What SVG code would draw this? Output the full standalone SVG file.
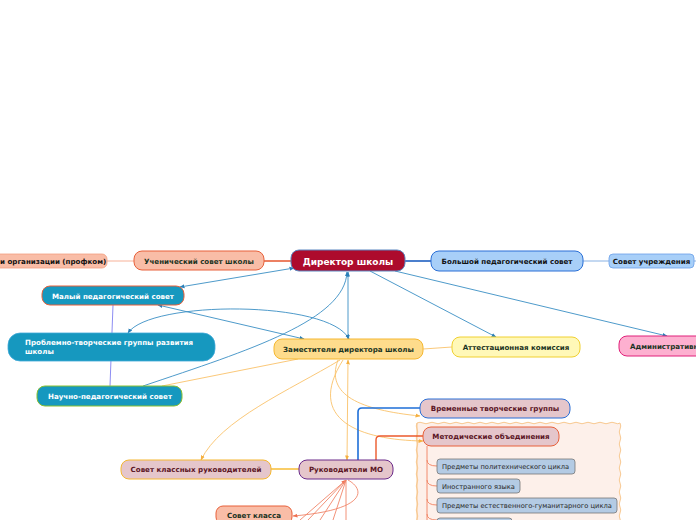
<svg xmlns="http://www.w3.org/2000/svg" width="696" height="520" viewBox="0 0 696 520">
<defs>
<style>
text{font-family:"DejaVu Sans","Verdana",sans-serif;font-weight:bold;font-size:7.1px;}
.c{text-anchor:middle;}
.w{fill:#ffffff;}
.dg{fill:#1b3322;}
.bk{fill:#111111;}
.mr{fill:#5a1424;}
.sub{font-weight:normal;font-size:6.7px;fill:#2a2a2a;}
.bl{fill:none;stroke:#3a8fc4;stroke-width:0.9;}
.or{fill:none;stroke:#f9c26a;stroke-width:0.9;}
.sa{fill:none;stroke:#f0866a;stroke-width:0.9;}
</style>
<marker id="ab" viewBox="0 0 10 10" refX="9" refY="5" markerWidth="5" markerHeight="5" orient="auto-start-reverse" markerUnits="userSpaceOnUse"><path d="M0,1 L10,5 L0,9 z" fill="#2a7fb8"/></marker>
<marker id="ao" viewBox="0 0 10 10" refX="9" refY="5" markerWidth="5" markerHeight="5" orient="auto-start-reverse" markerUnits="userSpaceOnUse"><path d="M0,1 L10,5 L0,9 z" fill="#f5b040"/></marker>
<marker id="as" viewBox="0 0 10 10" refX="9" refY="5" markerWidth="5" markerHeight="5" orient="auto-start-reverse" markerUnits="userSpaceOnUse"><path d="M0,1 L10,5 L0,9 z" fill="#ee7050"/></marker>
</defs>
<rect width="696" height="520" fill="#ffffff"/>

<g id="boundary">
<path d="M417,423 q3,-1.5 6,0 t6,0 t6,0 t6,0 t6,0 t6,0 t6,0 t6,0 t6,0 t6,0 t6,0 t6,0 t6,0 t6,0 t6,0 t6,0 t6,0 t6,0 t6,0 t6,0 t6,0 t6,0 t6,0 t6,0 t6,0 t6,0 t6,0 t6,0 t6,0 t6,0 t6,0 t6,0 t6,0 t5,0 q1.5,3 0,6 t0,6 t0,6 t0,6 t0,6 t0,6 t0,6 t0,6 t0,6 t0,6 t0,6 t0,6 t0,6 t0,6 t0,6 t0,6 t0,6 L618,530 L417,530 Z" fill="#fdf0ea" stroke="#f8c890" stroke-width="1"/>
<path d="M417,423 q-1.5,3 0,6 t0,6 t0,6 t0,6 t0,6 t0,6 t0,6 t0,6 t0,6 t0,6 t0,6 t0,6 t0,6 t0,6 t0,6 t0,6 t0,6" fill="none" stroke="#f8c890" stroke-width="1"/>
</g>

<g id="connectors">
<line x1="107" y1="261" x2="134" y2="261" stroke="#f6a88c" stroke-width="0.9"/>
<line x1="264" y1="261" x2="291" y2="261" stroke="#e8603a" stroke-width="1.6"/>
<line x1="405" y1="261" x2="431" y2="261" stroke="#1e5fc0" stroke-width="1.6"/>
<line x1="583" y1="261" x2="609" y2="261" stroke="#7aa8e0" stroke-width="0.9"/>
<line x1="694" y1="261" x2="696" y2="261" stroke="#7aa8e0" stroke-width="0.9"/>
<line class="bl" x1="180" y1="287" x2="294" y2="268" marker-start="url(#ab)" marker-end="url(#ab)"/>
<line class="bl" x1="348" y1="272" x2="348" y2="339" marker-start="url(#ab)" marker-end="url(#ab)"/>
<path class="bl" d="M143,386 C250,350 345,320 347,272" marker-end="url(#ab)"/>
<line class="bl" x1="158" y1="305" x2="304" y2="339" marker-start="url(#ab)" marker-end="url(#ab)"/>
<path class="bl" d="M128,333 C150,300 330,300 349,339" marker-start="url(#ab)" marker-end="url(#ab)"/>
<line class="bl" x1="370" y1="271" x2="496" y2="337" marker-end="url(#ab)"/>
<line class="bl" x1="395" y1="271" x2="667" y2="336" marker-end="url(#ab)"/>
<line x1="113" y1="305" x2="110" y2="386" stroke="#8080f0" stroke-width="0.9"/>
<line class="or" x1="423" y1="349" x2="452" y2="347"/>
<line class="or" x1="298" y1="359" x2="162" y2="386"/>
<path class="or" d="M340,360 C290,390 220,420 201,460" marker-end="url(#ao)"/>
<line class="or" x1="348" y1="360" x2="347" y2="460" marker-start="url(#ao)" marker-end="url(#ao)"/>
<path class="or" d="M338,360 C325,395 360,410 420,416" marker-end="url(#ao)"/>
<path class="or" d="M343,360 C305,420 360,440 423,441" marker-end="url(#ao)"/>
<line x1="271" y1="469" x2="299" y2="469" stroke="#f8c040" stroke-width="1.6"/>
<path d="M358,460 L358,412 Q358,408 362,408 L420,408" fill="none" stroke="#1e6fd8" stroke-width="1.6"/>
<path d="M376,460 L376,440 Q376,436 380,436 L423,436" fill="none" stroke="#ec5a2c" stroke-width="1.4"/>
<path d="M427,446 L427,520" fill="none" stroke="#f08060" stroke-width="0.9"/>
<path d="M427,460 Q427,466 437,466 M427,480 Q427,486 437,486 M427,499 Q427,505 437,505 M427,514 Q427,520 437,520" fill="none" stroke="#f08060" stroke-width="0.9"/>
<line class="sa" x1="300" y1="520" x2="346" y2="480" marker-end="url(#as)"/>
<line class="sa" x1="308" y1="520" x2="346" y2="480"/>
<line class="sa" x1="320" y1="520" x2="346" y2="480"/>
<line class="sa" x1="333" y1="520" x2="346" y2="480"/>
<line class="sa" x1="346" y1="520" x2="346" y2="480"/>
<path class="sa" d="M348,480 C366,490 366,510 293,516" marker-end="url(#as)"/>
</g>

<g id="n-profkom"><rect x="-10" y="254" width="117" height="14" rx="5" fill="#f9bda7" stroke="#f3a080" stroke-width="0.8"/><text class="bk" x="0" y="264">и организации (профком)</text></g>
<g id="n-uchsovet"><rect x="134" y="251" width="130" height="19" rx="8" fill="#f9bda7" stroke="#e8603a" stroke-width="1"/><text class="c dg" x="199" y="263.5">Ученический совет школы</text></g>
<g id="n-director"><rect x="291" y="250" width="114" height="21" rx="8" fill="#ad0b2d" stroke="#5a86c0" stroke-width="1"/><text class="c w" x="348" y="264.5" style="font-size:9px">Директор школы</text></g>
<g id="n-bolshoy"><rect x="431" y="251" width="152" height="20" rx="8" fill="#a8cff8" stroke="#2a6fd6" stroke-width="1"/><text class="c bk" x="507" y="263.5">Большой педагогический совет</text></g>
<g id="n-sovuch"><rect x="609" y="254" width="85" height="14" rx="4" fill="#a8cff8" stroke="#6aa0e8" stroke-width="0.8"/><text class="c bk" x="651.5" y="264">Совет учреждения</text></g>
<g id="n-maly"><rect x="42" y="286" width="142" height="19" rx="8" fill="#1698bf" stroke="#e8603a" stroke-width="1"/><text class="c w" x="113" y="298.5">Малый педагогический совет</text></g>
<g id="n-problem"><rect x="8" y="333" width="207" height="28" rx="12" fill="#1698bf" stroke="#40a8d8" stroke-width="0.8"/><text class="w" x="25" y="345">Проблемно-творческие группы развития</text><text class="w" x="25" y="354">школы</text></g>
<g id="n-nauchno"><rect x="37" y="386" width="145" height="20" rx="8" fill="#1698bf" stroke="#8ac030" stroke-width="1"/><text class="c w" x="110" y="399">Научно-педагогический совет</text></g>
<g id="n-zam"><rect x="274" y="339" width="149" height="20" rx="8" fill="#fedc8c" stroke="#f5b730" stroke-width="1"/><text class="c dg" x="348.5" y="352">Заместители директора школы</text></g>
<g id="n-attest"><rect x="452" y="337" width="128" height="20" rx="8" fill="#fff8b8" stroke="#f0d030" stroke-width="1"/><text class="c dg" x="516" y="350">Аттестационная комиссия</text></g>
<g id="n-admin"><rect x="619" y="336" width="90" height="20" rx="8" fill="#fdb0d0" stroke="#e0207a" stroke-width="1"/><text class="dg" x="630" y="349">Административный совет</text></g>
<g id="n-vremen"><rect x="420" y="399" width="150" height="19" rx="8" fill="#e5c6cb" stroke="#2a6fd6" stroke-width="1"/><text class="c mr" x="495" y="411">Временные творческие группы</text></g>
<g id="n-metod"><rect x="423" y="427" width="136" height="19" rx="8" fill="#e5c6cb" stroke="#e8603a" stroke-width="1"/><text class="c mr" x="491" y="439">Методические объединения</text></g>
<g id="n-polit"><rect x="437" y="459" width="138" height="15" rx="3" fill="#b4cbe4" stroke="#777777" stroke-width="0.8"/><text class="sub" x="442" y="469">Предметы политехнического цикла</text></g>
<g id="n-inostr"><rect x="437" y="479" width="83" height="14" rx="3" fill="#b4cbe4" stroke="#777777" stroke-width="0.8"/><text class="sub" x="442" y="489">Иностранного языка</text></g>
<g id="n-estest"><rect x="437" y="498" width="180" height="15" rx="3" fill="#b4cbe4" stroke="#777777" stroke-width="0.8"/><text class="sub" x="442" y="508">Предметы естественного-гуманитарного цикла</text></g>
<g id="n-next"><rect x="437" y="518" width="75" height="14" rx="3" fill="#b4cbe4" stroke="#777777" stroke-width="0.8"/></g>
<g id="n-sovklruk"><rect x="121" y="460" width="150" height="19" rx="8" fill="#e5c6cb" stroke="#f5b730" stroke-width="1"/><text class="c mr" x="196" y="472">Совет классных руководителей</text></g>
<g id="n-rukmo"><rect x="299" y="460" width="94" height="19" rx="8" fill="#e5c6cb" stroke="#6a2a8a" stroke-width="1"/><text class="c mr" x="346" y="472">Руководители МО</text></g>
<g id="n-sovklassa"><rect x="216" y="506" width="76" height="18" rx="7" fill="#f9bda7" stroke="#e8603a" stroke-width="1"/><text class="c dg" x="254" y="518">Совет класса</text></g>
</svg>
